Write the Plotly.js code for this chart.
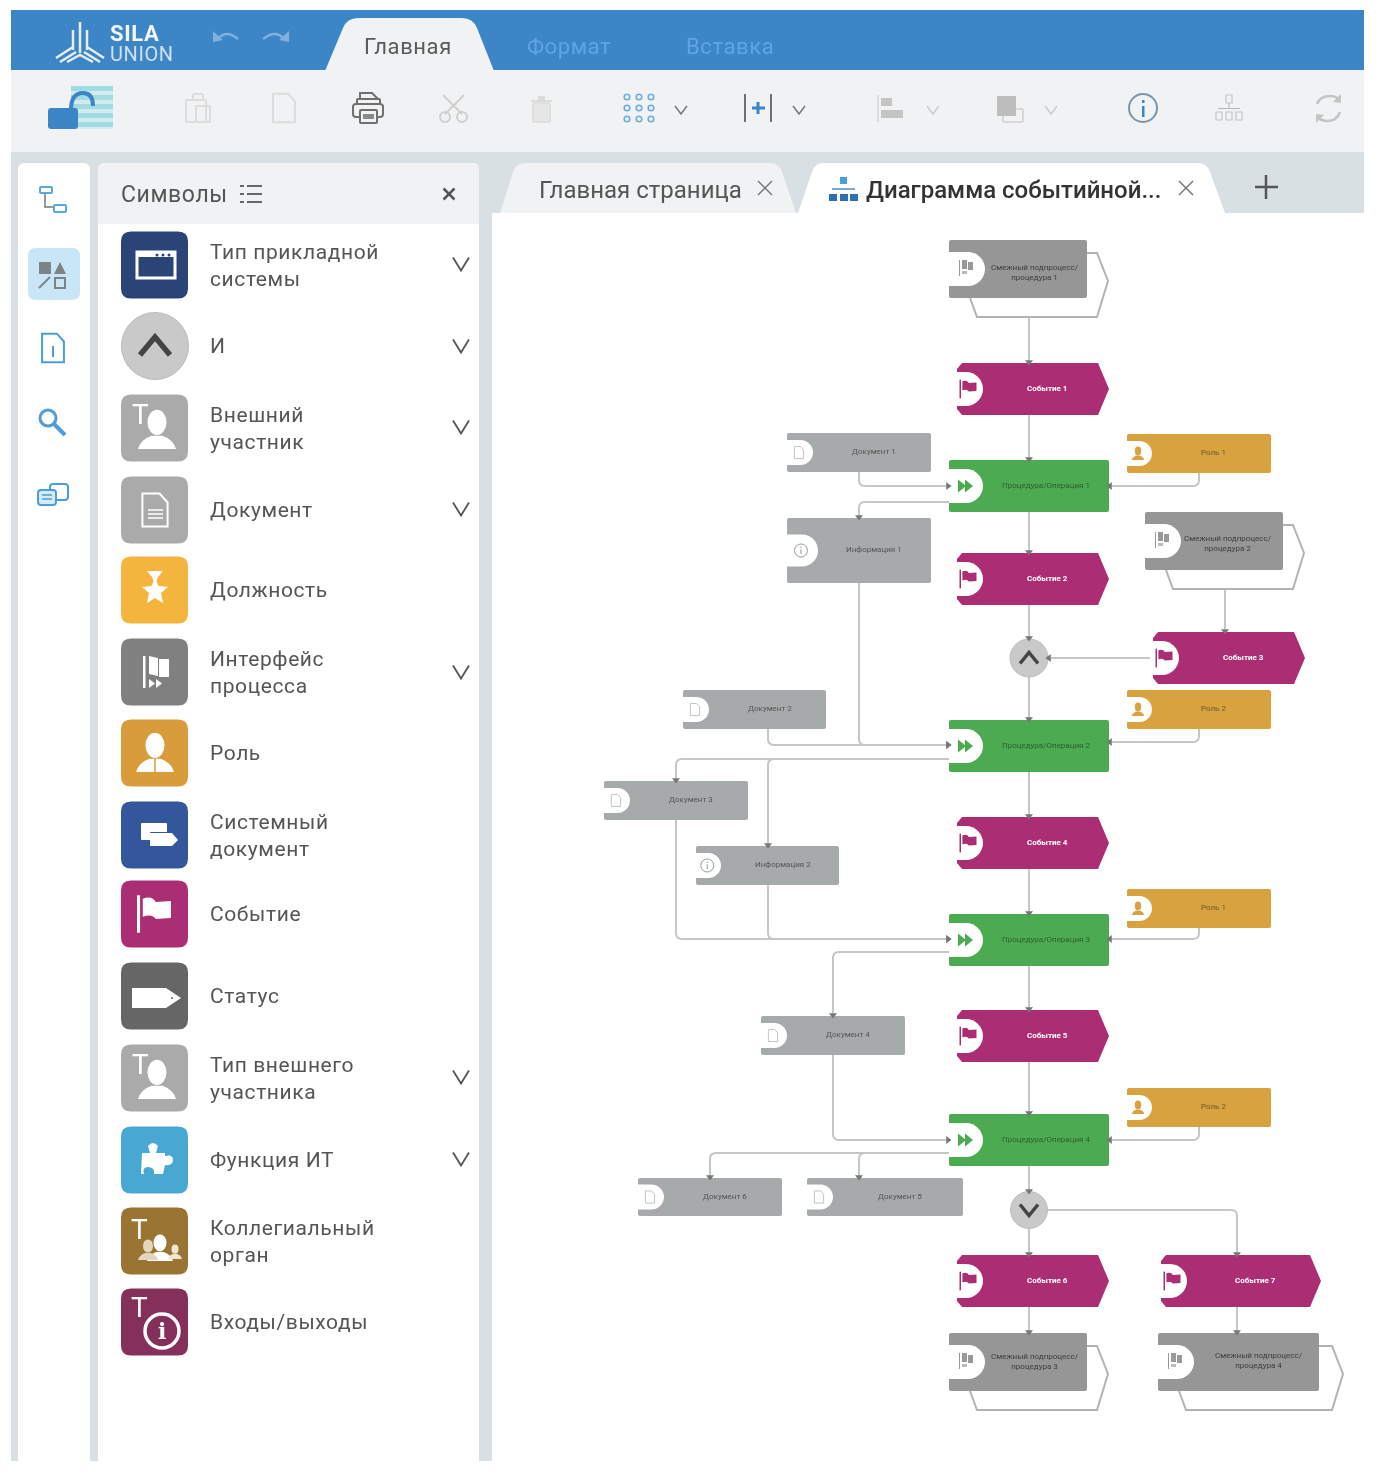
<!DOCTYPE html>
<html><head><meta charset="utf-8">
<script src="https://cdn.plot.ly/plotly-3.0.1.min.js"></script>
<style>
html,body{margin:0;padding:0;background:#fff}
#chart{width:1380px;height:1478px;filter:blur(0.5px)}
.annotation-text{letter-spacing:.6px}
.annotation-text[style*="font-size: 8"]{letter-spacing:0}
.annotation-text[style*="font-size: 24"]{letter-spacing:0}
</style></head><body><div id="chart"></div>
<script>
// ---------- text content ----------
const tabLabels = ['Главная','Формат','Вставка'];
const pageTabs = ['Главная страница','Диаграмма событийной...'];
const panelTitle = 'Символы';
const symbolLabels = ['Тип прикладной<br>системы','И','Внешний<br>участник','Документ','Должность','Интерфейс<br>процесса','Роль','Системный<br>документ','Событие','Статус','Тип внешнего<br>участника','Функция ИТ','Коллегиальный<br>орган','Входы/выходы'];
const symbolColors = ['#2b4478','#c9c9c9','#aaaaaa','#aaaaaa','#f4b53f','#808080','#d89c3a','#34569b','#ab2d74','#666666','#aaaaaa','#48a8d2','#9a7433','#85305b'];
const symbolRows = [265,346,428,510,590,672,753,835,914,996,1078,1160,1241,1322];
const symbolChevrons = [264,346,427,509,672,1077,1159];
// ---------- diagram nodes: [label, x0, y0, x1, y1] ----------
const subprocesses = [['Смежный подпроцесс/<br>процедура 1',949,240,1087,298,1108,1035,272],['Смежный подпроцесс/<br>процедура 2',1145,512,1283,570,1304,1228,543],['Смежный подпроцесс/<br>процедура 3',949,1333,1087,1391,1108,1035,1361],['Смежный подпроцесс/<br>процедура 4',1158,1333,1319,1391,1343,1259,1360]];
const events = [['Событие 1',957,363,1109,415],['Событие 2',957,553,1109,605],['Событие 3',1153,632,1305,684],['Событие 4',957,817,1109,869],['Событие 5',957,1010,1109,1062],['Событие 6',957,1255,1109,1307],['Событие 7',1161,1255,1321,1307]];
const procedures = [['Процедура/Операция 1',949,460,1109,512],['Процедура/Операция 2',949,720,1109,772],['Процедура/Операция 3',949,914,1109,966],['Процедура/Операция 4',949,1114,1109,1166]];
const documents = [['Документ 1',787,433,931,472],['Документ 2',683,690,826,729],['Документ 3',604,781,748,820],['Документ 4',761,1016,905,1055],['Документ 6',638,1178,782,1216],['Документ 5',807,1178,963,1216]];
const infos = [['Информация 1',787,518,931,583],['Информация 2',696,846,839,885]];
const roles = [['Роль 1',1127,434,1271,473],['Роль 2',1127,690,1271,729],['Роль 1',1127,889,1271,928],['Роль 2',1127,1088,1271,1127]];
const gateways = [[1029,658,19,'up'],[1029,1210,18.5,'down']];
// connector routes; last point carries the arrowhead, dir d/l/r
const connectors = [
 ['d',[1029,318],[1029,362]],['d',[1029,415],[1029,459]],['r',[859,472],[859,486],[948,486]],['l',[1199,473],[1199,486],[1110,486]],
 ['d',[949,502],[859,502],[859,517]],['d',[1029,512],[1029,552]],['d',[1029,605],[1029,638]],['d',[1225,589],[1225,631]],
 ['l',[1153,658],[1049,658]],['r',[859,583],[859,745],[948,745]],['d',[1029,677],[1029,719]],['r',[768,729],[768,745],[948,745]],
 ['l',[1199,729],[1199,742],[1110,742]],['d',[949,759],[676,759],[676,780]],['d',[949,759],[768,759],[768,845]],
 ['d',[1029,772],[1029,816]],['d',[1029,869],[1029,913]],['r',[676,820],[676,939],[948,939]],['r',[768,885],[768,939],[948,939]],
 ['l',[1199,928],[1199,939],[1110,939]],['d',[949,952],[833,952],[833,1015]],['d',[1029,966],[1029,1009]],['d',[1029,1062],[1029,1113]],
 ['r',[833,1055],[833,1140],[948,1140]],['l',[1199,1127],[1199,1140],[1110,1140]],['d',[949,1153],[710,1153],[710,1177]],
 ['d',[949,1153],[859,1153],[859,1177]],['d',[1029,1166],[1029,1191]],['d',[1029,1229],[1029,1254]],['d',[1047,1210],[1237,1210],[1237,1254]],
 ['d',[1029,1307],[1029,1332]],['d',[1237,1307],[1237,1332]]
];
// ---------- helpers ----------
const shapes=[], annotations=[];
const P=(path,fill,line,w)=>shapes.push({type:'path',path,xref:'x',yref:'y',layer:'below',fillcolor:fill||'rgba(0,0,0,0)',line:{color:line||'rgba(0,0,0,0)',width:line?(w||1):0}});
const R=(x0,y0,x1,y1,fill,line,w)=>shapes.push({type:'rect',x0,y0,x1,y1,xref:'x',yref:'y',layer:'below',fillcolor:fill||'rgba(0,0,0,0)',line:{color:line||'rgba(0,0,0,0)',width:line?(w||1):0}});
const C=(cx,cy,r,fill,line,w,ry)=>shapes.push({type:'circle',x0:cx-r,x1:cx+r,y0:cy-(ry||r),y1:cy+(ry||r),xref:'x',yref:'y',layer:'below',fillcolor:fill||'rgba(0,0,0,0)',line:{color:line||'rgba(0,0,0,0)',width:line?(w||1):0}});
const rr=(x0,y0,x1,y1,r)=>`M${x0+r},${y0}L${x1-r},${y0}Q${x1},${y0} ${x1},${y0+r}L${x1},${y1-r}Q${x1},${y1} ${x1-r},${y1}L${x0+r},${y1}Q${x0},${y1} ${x0},${y1-r}L${x0},${y0+r}Q${x0},${y0} ${x0+r},${y0}Z`;
const RR=(x0,y0,x1,y1,r,fill,line,w)=>P(rr(x0,y0,x1,y1,r),fill,line,w);
const L=(pts,color,w)=>P('M'+pts.map(p=>p.join(',')).join('L'),null,color,w);
const T=(x,y,text,size,color,anchor,extra)=>annotations.push(Object.assign({x:anchor==='left'?x-2:x,y,xref:'x',yref:'y',text,showarrow:false,xanchor:anchor||'center',yanchor:'middle',align:anchor==='left'?'left':'center',font:{family:'Roboto, sans-serif',size,color}},extra||{}));
function route(pts,r){let d=`M${pts[0].join(',')}`;for(let i=1;i<pts.length;i++){const p=pts[i];if(i<pts.length-1){const a=pts[i-1],b=pts[i+1];const ux=Math.sign(p[0]-a[0]),uy=Math.sign(p[1]-a[1]),vx=Math.sign(b[0]-p[0]),vy=Math.sign(b[1]-p[1]);d+=`L${p[0]-ux*r},${p[1]-uy*r}Q${p[0]},${p[1]} ${p[0]+vx*r},${p[1]+vy*r}`;}else d+=`L${p.join(',')}`;}return d;}
function pill(x0,cy,w,h){const r=h/2;P(`M${x0},${cy-r}L${x0+w-r},${cy-r}C${x0+w-r*0.45},${cy-r} ${x0+w},${cy-r*0.55} ${x0+w},${cy}C${x0+w},${cy+r*0.55} ${x0+w-r*0.45},${cy+r} ${x0+w-r},${cy+r}L${x0},${cy+r}Z`,'#ffffff');}
function flag(x,y,s,c){R(x-s*.5,y-s*.55,x-s*.41,y+s*.55,c);P(`M${x-s*.33},${y-s*.45}Q${x-s*.05},${y-s*.55} ${x+.05*s},${y-s*.35}L${x+.5*s},${y-s*.38}L${x+.5*s},${y+s*.12}L${x+.05*s},${y+.15*s}Q${x-s*.05},${y-.02*s} ${x-s*.33},${y+.08*s}Z`,c);}
function doc(x,y,s,c,w){P(`M${x-s*.42},${y-s*.55}L${x+s*.15},${y-s*.55}L${x+s*.42},${y-s*.25}L${x+s*.42},${y+s*.55}L${x-s*.42},${y+s*.55}Z`,null,c,w||1);}
function person(x,y,s,c){C(x,y-s*.2,s*.25,c,null,0,s*.33);P(`M${x-s*.5},${y+s*.5}Q${x-s*.42},${y+s*.24} ${x-s*.14},${y+s*.15}L${x+s*.14},${y+s*.15}Q${x+s*.42},${y+s*.24} ${x+s*.5},${y+s*.5}Z`,c);}
function chev(x,y,w,h,c,lw,up){L(up?[[x-w,y+h],[x,y-h],[x+w,y+h]]:[[x-w,y-h],[x,y+h],[x+w,y-h]],c,lw);}
function ex(x,y,s,c,w){L([[x-s,y-s],[x+s,y+s]],c,w);L([[x+s,y-s],[x-s,y+s]],c,w);}
function infoIcon(x,y,r,c,w){C(x,y,r,null,c,w);R(x-w/2,y-r*.2,x+w/2,y+r*.55,c);R(x-w/2,y-r*.6,x+w/2,y-r*.38,c);}
// ---------- chrome ----------
R(11,152,1364,1461,'#d8e0e4');
R(11,10,1364,71,'#3c85c6');
R(11,70,1364,152,'#f0f2f4');
P('M325,71L343,28Q347,18 358,18L462,18Q473,18 477,28L494,71Z','#f0f2f4');
T(408,46,tabLabels[0],22,'#5a5a5a');
T(569,46,tabLabels[1],22,'#5fa5e2');
T(730,46,tabLabels[2],22,'#5fa5e2');
// logo
const lg='#e6eff8';
L([[80,22],[80,53]],lg,2.5);L([[73,30],[73,50]],lg,2.5);L([[87,30],[87,50]],lg,2.5);
L([[56,58],[73,47]],lg,2.5);L([[60,62],[76,52]],lg,2.5);L([[104,58],[87,47]],lg,2.5);L([[100,62],[84,52]],lg,2.5);L([[67,62],[80,55],[93,62]],lg,2.5);
T(110,33,'SILA',22,'#f3f7fb','left',{font:{family:'Roboto, sans-serif',size:22,color:'#f3f7fb',weight:700}});
T(110,54,'UNION',20,'#cfe0f1','left');
// undo redo
P('M218,39Q226,29 238,39',null,'#7fb0de',2.5);P('M213,31L223,40L213,42Z','#7fb0de');
P('M284,39Q276,29 263,39',null,'#7fb0de',2.5);P('M289,31L279,40L289,42Z','#7fb0de');
// lock
for(let i=0;i<5;i++)R(71,86+i*9,113,91+i*9,'#9fdde2');R(71,86,113,129,'rgba(160,221,226,0.35)');
P('M71,110Q71,93 83,93Q93,93 93,106',null,'#3c85c6',4);
RR(48,108,78,129,3,'#3c85c6');
// toolbar icons
RR(186,100,206,122,1,null,'#dcdcdc',2);RR(193,94,203,100,1,null,'#dcdcdc',2);RR(196,106,210,122,1,null,'#dcdcdc',2);
doc(284,108,26,'#dcdcdc',2);
RR(357,99,380,104,1,null,'#707070',2);P('M360,99L360,93L372,93L378,99',null,'#707070',2);RR(353,104,383,117,3,null,'#707070',2);RR(360,110,377,123,1,'#f0f2f4','#707070',2);R(363,114,374,119,'#8a8a8a');
L([[443,95],[462,114]],'#cfcfcf',2);L([[464,95],[445,114]],'#cfcfcf',2);C(445,117,5,null,'#cfcfcf',2);C(462,117,5,null,'#cfcfcf',2);
R(531,100,552,102,'#dcdcdc');RR(533,103,550,122,1,'#e6e6e6','#dcdcdc',1.5);R(538,96,545,100,'#dcdcdc');
[0,1,2].forEach(i=>[0,1,2].forEach(j=>C(627+i*12,97+j*11,2.8,null,'#6aaee0',1.6)));
chev(681,110,6,4,'#777',1.5);
L([[745,94],[745,122]],'#707070',2);L([[771,94],[771,122]],'#707070',2);L([[752,108],[765,108]],'#3c85c6',3);L([[758,102],[758,114]],'#3c85c6',3);
chev(799,110,6,4,'#777',1.5);
L([[878,95],[878,122]],'#d5d5d5',1.5);R(881,98,892,106,'#c4c4c4');R(881,110,903,118,'#c4c4c4');
chev(933,110,6,4,'#ccc',1.5);
RR(1003,109,1023,122,1,null,'#cfcfcf',1.5);R(997,96,1016,116,'#bdbdbd');
chev(1051,110,6,4,'#ccc',1.5);
C(1143,108,14,null,'#7a95aa',2);R(1142,106,1144.5,117,'#3c85c6');R(1142,100,1144.5,103,'#3c85c6');
R(1226,95,1232,103,null,'#c4c4c4',1.2);R(1228.5,103,1229.5,108,'#b5b5b5');R(1218,108,1240,109,'#b5b5b5');R(1216,112,1222,120,null,'#c4c4c4',1.2);R(1226,112,1232,120,null,'#c4c4c4',1.2);R(1236,112,1242,120,null,'#c4c4c4',1.2);
P('M1317,104Q1320,96 1330,96Q1337,96 1340,101',null,'#c4c4c4',2.5);P('M1340,112Q1337,121 1327,121Q1320,121 1317,116',null,'#c4c4c4',2.5);P('M1341,94L1341,103L1333,102Z','#c4c4c4');P('M1316,123L1316,114L1324,115Z','#c4c4c4');
// left bar
P('M18,1461L18,170Q18,163 25,163L83,163Q90,163 90,170L90,1461Z','#ffffff');
RR(28,248,80,300,8,'#c9e6f7');
RR(40,187,52,193,1,null,'#5ba7dd',2);RR(54,205,66,212,1,null,'#5ba7dd',2);P('M45,194L45,207L53,207',null,'#777',1.5);
R(39,262,51,274,'#7d8488');P('M54,274L60,262L66,274Z','#7d8488');L([[39,288],[50,277]],'#7d8488',2);R(55,278,65,288,null,'#7d8488',2);
doc(53,348,26,'#4d9ddb',2);R(52,346,54,357,'#4d9ddb');
C(48,418,8,null,'#4d9ddb',3);L([[54,424],[65,435]],'#4d9ddb',4);
RR(50,484,68,500,3,'#ffffff','#4d9ddb',2);RR(38,490,56,505,3,'#d4ebfa','#4d9ddb',2);L([[42,495],[52,495]],'#4d9ddb',1.5);L([[42,499],[52,499]],'#4d9ddb',1.5);
// symbols panel
P('M98,1461L98,170Q98,163 105,163L472,163Q479,163 479,170L479,1461Z','#ffffff');
P('M98,224L98,170Q98,163 105,163L472,163Q479,163 479,170L479,224Z','#f0f2f4');
T(121,194,panelTitle,23,'#555','left');
[186,194,202].forEach(y=>{R(240,y-1,244,y+1,'#666');R(247,y-1,262,y+1,'#666');});
ex(449,194,5.5,'#555',2.5);
symbolRows.forEach((y,i)=>{
  if(i===1) C(155,y,33.5,symbolColors[i],'#bbb',1); else RR(121,y-33.5,188,y+33.5,10,symbolColors[i]);
  T(210,y,symbolLabels[i],21,'#555','left');
});
symbolChevrons.forEach(y=>chev(461,y,8,6.5,'#555',1.8));
const W='#ffffff';
// symbol glyphs
R(137,252,175,278,null,W,3);R(137,252,175,257,W);[157,163,169].forEach(x=>C(x,255,1.5,'#2b4478'));
chev(155,346,15,9,'#444',5.5,true);
T(140,414,'T',28,W);person(157,430,38,W);
T(140,1064,'T',28,W);person(157,1080,38,W);
doc(155,510,30,W,2);[510,514,518].forEach(y=>L([[148,y],[163,y]],W,1.5));
P('M147,571L163,571L158,577L156,582L154,582L152,577Z',W);P('M155,578L158.5,586L168,587L161,593L163,603L155,598L147,603L149,593L142,587L151.5,586Z',W);
R(143,656,145.5,688,W);P('M149,656L158,658L158,676L149,674Z',W);P('M159,659L169,659L169,677L159,677Z',W);
P('M149,679L149,688L155,683.5Z',W);P('M156,679L156,688L162,683.5Z',W);
person(155,753,38,W);L([[155,758],[155,772]],'#d89c3a',1.5);
RR(141,823,167,840,1,W);RR(150,832,170,848,1,'#34569b');P('M150,833L172,833L178,840L172,846L150,846Z',W);
flag(154,914,34,W);
P('M132,988L166,988L181,998L166,1008L132,1008Z',W);C(172,998,1,'#666');
P('M142,1153L150,1153L148,1146Q153,1140 158,1146L156,1153L165,1153L165,1156Q173,1154 173,1160Q173,1166 165,1165L163,1174L154,1174Q155,1167 148,1167Q142,1167 144,1174L141,1174Z',W);
T(139,1229,'T',28,W);person(160,1248,26,W);person(148,1250,20,'#e3d6bc');person(175,1252,14,'#efe7d4');
T(139,1307,'T',28,W);C(162,1331,17,null,W,3.5);T(162,1331,'i',22,W,'center',{font:{family:'DejaVu Serif, serif',size:22,color:W,weight:700}});
// page tabs
P('M500,213L513,172Q516,163 525,163L770,163Q779,163 782,172L796,213Z','#f0f2f4');
P('M798,213L812,172Q815,163 824,163L1198,163Q1207,163 1210,172L1225,213Z','#ffffff');
R(492,213,1364,1461,'#ffffff');
T(640,190,pageTabs[0],24,'#555');
T(1013,190,pageTabs[1],24,'#333','center',{font:{family:'Roboto, sans-serif',size:24,color:'#333',weight:500}});
ex(765,188,7,'#777',1.5);ex(1186,188,7,'#777',1.5);
L([[1255,187],[1278,187]],'#555',2.5);L([[1266,175],[1266,199]],'#555',2.5);
R(840,177,847,184,'#45a0e3');R(832,188,855,190,'#7fa8cc');R(829,194,837,201,'#2f6fb5');R(840,194,848,201,'#2f6fb5');R(850,194,858,201,'#2f6fb5');
// ---------- diagram ----------
const lineColor='#c6c6c6';
connectors.forEach(c=>P(route(c.slice(1),6),null,lineColor,2));
subprocesses.forEach(([label,x0,y0,x1,y1,tip,tx,ty])=>{
  const ob=y1+19;
  P(`M${x1},${y0+13}L${tip-11},${y0+13}L${tip},${y0+41}L${tip-11},${ob}L${x0+28},${ob}L${x0+21},${y1}`,null,'#b3b3b3',2);
  RR(x0,y0,x1,y1,2,'#969696');
  pill(x0,y0+29,36,34);
  const ix=x0+17,iy=y0+28;
  R(ix-7,iy-8,ix-6,iy+8,'#999');R(ix-4,iy-8,ix+1,iy+1,'#999');R(ix+2,iy-6,ix+7,iy+2,'#999');R(ix-4,iy+3,ix+1,iy+6,'#bbb');
  T(tx,ty,label,8,'#3d3d3d','center');
});
events.forEach(([label,x0,y0,x1,y1])=>{
  const m=(y0+y1)/2;
  P(`M${x0+5},${y0}L${x1-11},${y0}L${x1},${m}L${x1-11},${y1}L${x0+5},${y1}L${x0},${y1-6}L${x0},${y0+6}Z`,'#ab2d74');
  pill(x0-3,m,29,34);
  flag(x0+11,m,17,'#ab2d74');
  T((x0+26+x1)/2+1,m-1,label,8,'#fff','center',{font:{family:'Roboto, sans-serif',size:8,color:'#fff',weight:700}});
});
procedures.forEach(([label,x0,y0,x1,y1])=>{
  const m=(y0+y1)/2;
  RR(x0,y0,x1,y1,2,'#4caa50');
  pill(x0,m,34,34);
  P(`M${x0+9},${m-6.5}L${x0+17},${m}L${x0+9},${m+6.5}Z`,'#4caa50');P(`M${x0+16},${m-6.5}L${x0+24},${m}L${x0+16},${m+6.5}Z`,'#4caa50');
  T(x0+97,m-1,label,8,'#2f5c33','center');
});
documents.forEach(([label,x0,y0,x1,y1])=>{
  const m=(y0+y1)/2;
  RR(x0,y0,x1,y1,2,'#a7aaab');
  pill(x0,m,26,25);
  doc(x0+12,m,11,'#c4c4c4',1);
  T((x0+26+x1)/2+2,m-1,label,8,'#555','center');
});
infos.forEach(([label,x0,y0,x1,y1])=>{
  const m=(y0+y1)/2;
  RR(x0,y0,x1,y1,2,'#a7aaab');
  const h=label.endsWith('1')?32:25, w=label.endsWith('1')?31:25;
  pill(x0,m,w,h);
  infoIcon(x0+w*.45,m,6.5,'#999',1);
  T((x0+26+x1)/2+2,m-1,label,8,'#555','center');
});
roles.forEach(([label,x0,y0,x1,y1])=>{
  const m=(y0+y1)/2;
  RR(x0,y0,x1,y1,2,'#d9a241');
  pill(x0,m,25,25);
  person(x0+11,m,13,'#d9a241');
  T((x0+26+x1)/2+1,m-1,label,8,'#6d5a2c','center');
});
gateways.forEach(([x,y,r,dir])=>{
  C(x,y,r,'#c9c9c9','#bdbdbd',1);
  chev(x,y,9,5.5,'#444',3.5,dir==='up');
});
// arrowheads through the library's own marker scale
const arrowX=connectors.map(c=>c[c.length-1][0]);
const arrowY=connectors.map(c=>c[c.length-1][1]);
const arrowSym=connectors.map(c=>({d:'triangle-down',l:'triangle-left',r:'triangle-right'})[c[0]]);
const arrows={type:'scatter',mode:'markers',x:arrowX,y:arrowY,hoverinfo:'skip',showlegend:false,marker:{symbol:arrowSym,size:7,color:'#777',line:{width:0}}};
Plotly.newPlot('chart',[arrows],{
  width:1380,height:1478,margin:{l:0,r:0,t:0,b:0,pad:0},paper_bgcolor:'#ffffff',plot_bgcolor:'rgba(0,0,0,0)',showlegend:false,
  xaxis:{range:[0,1380],visible:false,fixedrange:true},
  yaxis:{range:[1478,0],visible:false,fixedrange:true},
  shapes,annotations
},{displayModeBar:false,staticPlot:true});
</script></body></html>
